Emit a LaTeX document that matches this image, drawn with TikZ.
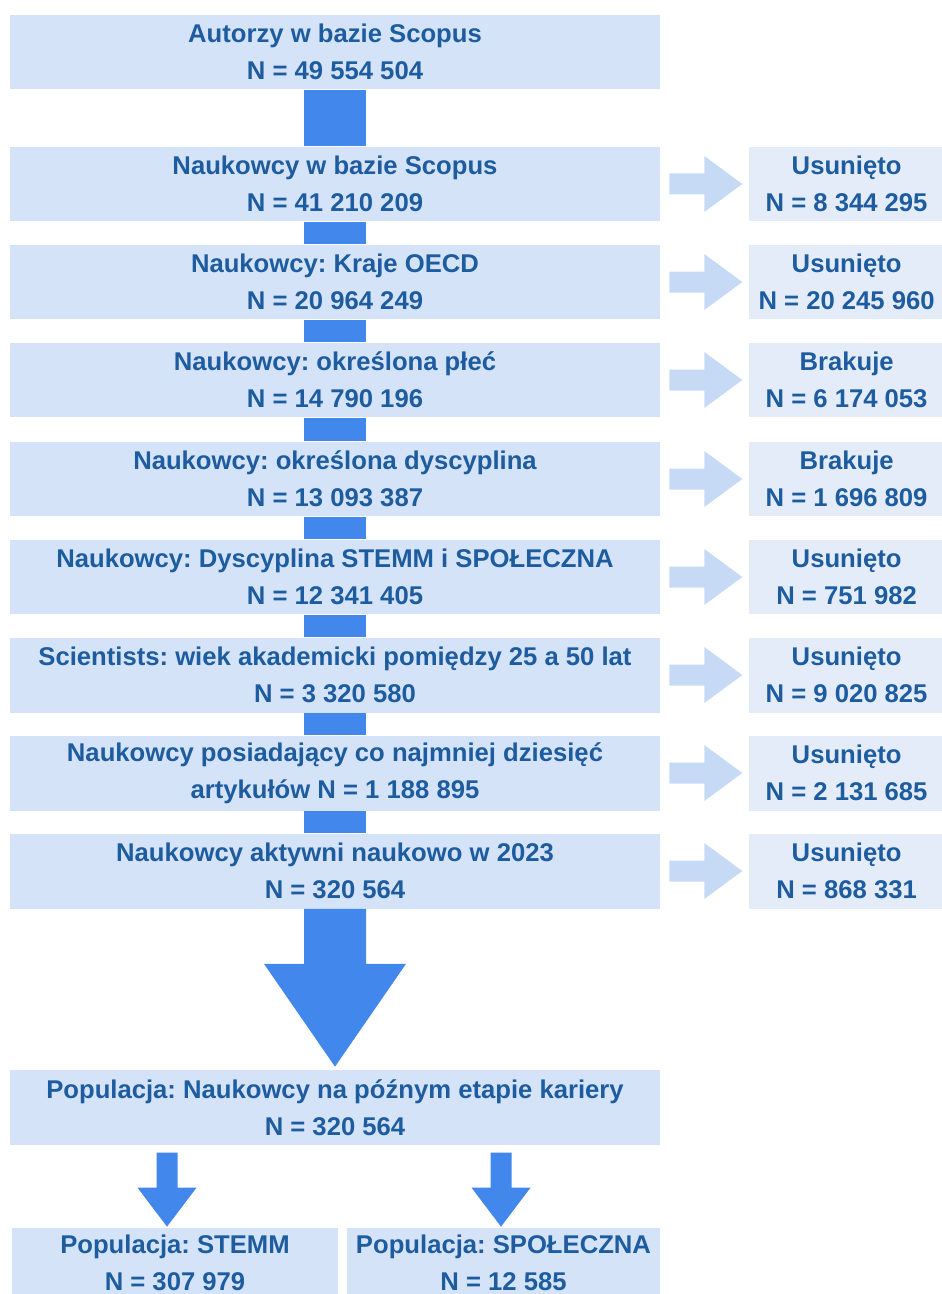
\documentclass[tikz,border=0pt]{standalone}
\usepackage{fontspec}
\setmainfont{Liberation Sans}
\usepackage{tikz}
\usetikzlibrary{calc,positioning}
\frenchspacing

\definecolor{boxblue}{RGB}{213,227,248}
\definecolor{sideblue}{RGB}{228,236,249}
\definecolor{arrowblue}{RGB}{66,135,236}
\definecolor{palearrow}{RGB}{198,218,245}
\definecolor{textblue}{RGB}{30,92,160}

\tikzset{
  box/.style={fill=boxblue, text=textblue, align=center, inner sep=0pt,
    font=\fontsize{14.6}{21}\selectfont\bfseries\frenchspacing, minimum height=1.5cm},
  mainbox/.style={box, minimum width=13cm},
  sidebox/.style={box, fill=sideblue, minimum width=3.92cm},
}

\begin{document}
\begin{tikzpicture}[x=0.02cm, y=-0.02cm]
    \useasboundingbox (0,0) rectangle (942,1294);
    \clip (0,0) rectangle (942,1294);
    % main column
    \node[mainbox] (b1) at (335,52) {Autorzy w bazie Scopus\\N = 49 554 504};
    \node[mainbox] (b2) at (335,184) {Naukowcy w bazie Scopus\\N = 41 210 209};
    \node[mainbox] (b3) at (335,282) {Naukowcy: Kraje OECD\\N = 20 964 249};
    \node[mainbox] (b4) at (335,380) {Naukowcy: określona płeć\\N = 14 790 196};
    \node[mainbox] (b5) at (335,479) {Naukowcy: określona dyscyplina\\N = 13 093 387};
    \node[mainbox] (b6) at (335,577) {Naukowcy: Dyscyplina STEMM i SPOŁECZNA\\N = 12 341 405};
    \node[mainbox] (b7) at (335,675) {Scientists: wiek akademicki pomiędzy 25 a 50 lat\\N = 3 320 580};
    \node[mainbox] (b8) at (335,773) {Naukowcy posiadający co najmniej dziesięć\\artykułów N = 1 188 895};
    \node[mainbox] (b9) at (335,871) {Naukowcy aktywni naukowo w 2023\\N = 320 564};
    \node[mainbox] (b10) at (335,1107.5) {Populacja: Naukowcy na późnym etapie kariery\\N = 320 564};
    % removed
    \node[sidebox, right=1.76cm of b2] (r2) {Usunięto\\N = 8 344 295};
    \node[sidebox, right=1.76cm of b3] (r3) {Usunięto\\N = 20 245 960};
    \node[sidebox, right=1.76cm of b4] (r4) {Brakuje\\N = 6 174 053};
    \node[sidebox, right=1.76cm of b5] (r5) {Brakuje\\N = 1 696 809};
    \node[sidebox, right=1.76cm of b6] (r6) {Usunięto\\N = 751 982};
    \node[sidebox, right=1.76cm of b7] (r7) {Usunięto\\N = 9 020 825};
    \node[sidebox, right=1.76cm of b8] (r8) {Usunięto\\N = 2 131 685};
    \node[sidebox, right=1.76cm of b9] (r9) {Usunięto\\N = 868 331};
    % final split
    \node[box, minimum width=6.52cm, minimum height=1.4cm] (stemm) at (175,1263) {Populacja: STEMM\\N = 307 979};
    \node[box, minimum width=6.26cm, minimum height=1.4cm] (spol) at (503.5,1263) {Populacja: SPOŁECZNA\\N = 12 585};

    \foreach \i [evaluate=\i as \j using int(\i+1)] in {1,...,8}
      \fill[arrowblue] ($(b\i.south)+(-31,0)$) rectangle ($(b\j.north)+(31,0)$);
    \foreach \i in {2,...,9}
      \fill[palearrow] ($(b\i.east)+(9,-10.5)$) -- ++(35,0) -- ++(0,-17.5)
        -- ($(r\i.west)+(-6,0)$) -- ($(b\i.east)+(44,28)$) -- ++(0,-17.5)
        -- ($(b\i.east)+(9,10.5)$) -- cycle;

    \fill[arrowblue] ($(b9.south)+(-31,0)$) -- ++(0,55) -- ++(-40,0)
      -- ($(b10.north)+(0,-3)$) -- ($(b9.south)+(71,55)$) -- ++(-40,0)
      -- ($(b9.south)+(31,0)$) -- cycle;

    \coordinate (tipL) at ($(stemm.north)+(-8,-1)$);
    \coordinate (tipR) at ($(spol.north)+(-2.5,-1)$);
    \foreach \t in {tipL,tipR}
      \fill[arrowblue] ($(\t)+(-10.5,-74)$) -- ($(\t)+(-10.5,-39)$) -- ($(\t)+(-29.5,-39)$)
        -- (\t) -- ($(\t)+(29.5,-39)$) -- ($(\t)+(10.5,-39)$) -- ($(\t)+(10.5,-74)$) -- cycle;
\end{tikzpicture}
\end{document}
